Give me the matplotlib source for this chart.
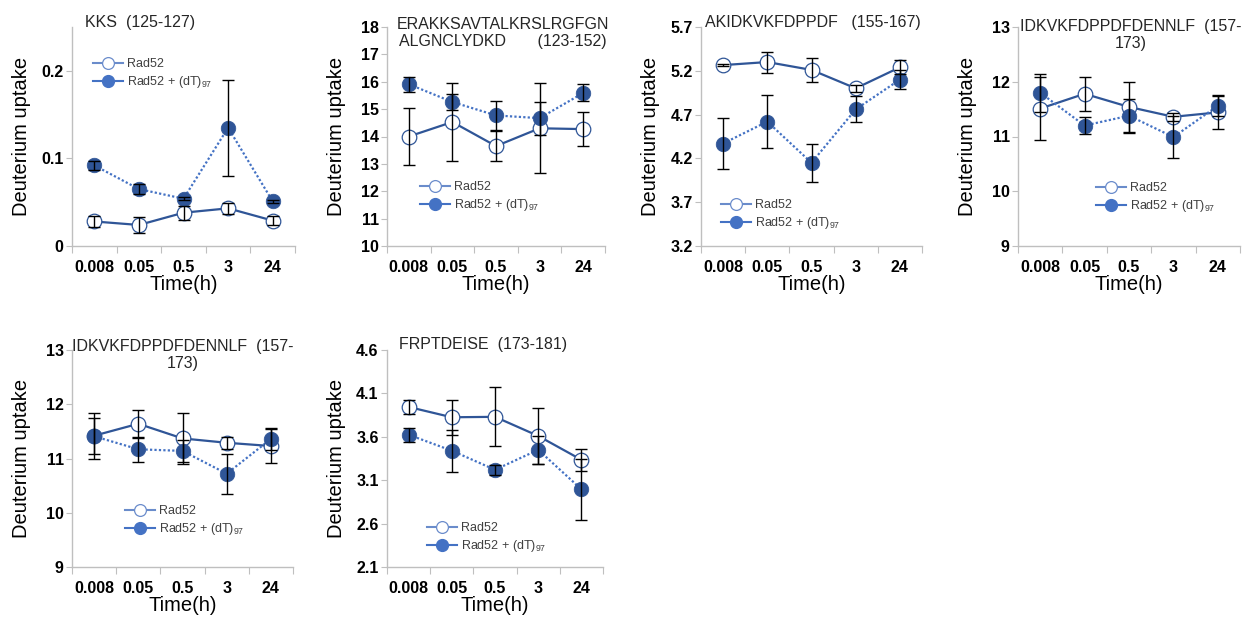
import matplotlib
matplotlib.use("Agg")
import matplotlib.pyplot as plt
from matplotlib.lines import Line2D
import numpy as np

plt.rcParams["font.family"] = ["Liberation Sans", "DejaVu Sans"]
plt.rcParams["mathtext.fontset"] = "custom"
plt.rcParams["mathtext.rm"] = "Liberation Sans"
plt.rcParams["mathtext.default"] = "rm"

# ---- data -------------------------------------------------------------
times = ["0.008", "0.05", "0.5", "3", "24"]
series_labels = ["Rad52", "Rad52 + (dT)$_{97}$"]

# KKS (125-127)
kks_apo = [0.028, 0.024, 0.038, 0.043, 0.029]
kks_apo_err = [0.006, 0.0095, 0.008, 0.0063, 0.005]
kks_dt = [0.092, 0.065, 0.054, 0.135, 0.051]
kks_dt_err = [0.005, 0.006, 0.002, 0.055, 0.002]

# ERAKKSAVTALKRSLRGFGNALGNCLYDKD (123-152)
erak_apo = [14.00, 14.53, 13.65, 14.30, 14.27]
erak_apo_err = [1.03, 1.43, 0.55, 1.65, 0.62]
erak_dt = [15.91, 15.26, 14.77, 14.67, 15.59]
erak_dt_err = [0.28, 0.30, 0.52, 0.60, 0.31]

# AKIDKVKFDPPDF (155-167)
akid_apo = [5.265, 5.30, 5.21, 5.00, 5.24]
akid_apo_err = [0.01, 0.12, 0.14, 0.04, 0.08]
akid_dt = [4.37, 4.62, 4.15, 4.76, 5.10]
akid_dt_err = [0.29, 0.30, 0.22, 0.15, 0.11]

# IDKVKFDPPDFDENNLF (157-173), first replicate set
idkv1_apo = [11.51, 11.78, 11.54, 11.36, 11.44]
idkv1_apo_err = [0.58, 0.31, 0.46, 0.07, 0.31]
idkv1_dt = [11.80, 11.20, 11.38, 10.99, 11.56]
idkv1_dt_err = [0.35, 0.16, 0.31, 0.39, 0.18]

# IDKVKFDPPDFDENNLF (157-173), second replicate set
idkv2_apo = [11.42, 11.64, 11.37, 11.29, 11.23]
idkv2_apo_err = [0.42, 0.26, 0.47, 0.11, 0.32]
idkv2_dt = [11.41, 11.17, 11.14, 10.72, 11.36]
idkv2_dt_err = [0.33, 0.23, 0.20, 0.37, 0.20]

# FRPTDEISE (173-181)
frpt_apo = [3.944, 3.825, 3.83, 3.61, 3.335]
frpt_apo_err = [0.08, 0.20, 0.34, 0.32, 0.13]
frpt_dt = [3.624, 3.44, 3.22, 3.45, 2.995]
frpt_dt_err = [0.08, 0.24, 0.06, 0.16, 0.35]

kks_yticks = [0, 0.1, 0.2]
kks_yticklabels = ["0", "0.1", "0.2"]
erak_yticks = [10, 11, 12, 13, 14, 15, 16, 17, 18]
akid_yticks = [3.2, 3.7, 4.2, 4.7, 5.2, 5.7]
idkv_yticks = [9, 10, 11, 12, 13]
frpt_yticks = [2.1, 2.6, 3.1, 3.6, 4.1, 4.6]

# ---- styling ----------------------------------------------------------
W, H = 1247, 620
SOLID = "#2F5597"
DOTTED = "#4472C4"
FILL = "#2F5597"
AXIS_GREY = "#BFBFBF"
LEG_OPEN = "#6A8CCB"
LEG_FILL = "#4472C4"

fig = plt.figure(figsize=(W / 100, H / 100), dpi=100)


def box(l, t, r, b):
    return [l / W, 1 - b / H, (r - l) / W, (b - t) / H]


def fpt(x, y):
    return (x / W, 1 - y / H)


panels = [
    dict(rect=(72, 27, 295, 246), apo=kks_apo, apo_err=kks_apo_err, dt=kks_dt, dt_err=kks_dt_err,
         ylim=(0, 0.25), yticks=kks_yticks, yticklabels=kks_yticklabels,
         title="KKS  (125-127)", title_xy=(140, 23), leg_xy=(93, 74)),
    dict(rect=(387, 27, 605, 246), apo=erak_apo, apo_err=erak_apo_err, dt=erak_dt, dt_err=erak_dt_err,
         ylim=(10, 18), yticks=erak_yticks, yticklabels=[str(v) for v in erak_yticks],
         title="ERAKKSAVTALKRSLRGFGN\nALGNCLYDKD       (123-152)", title_xy=(503, 33), leg_xy=(420, 197)),
    dict(rect=(701, 27, 922, 246), apo=akid_apo, apo_err=akid_apo_err, dt=akid_dt, dt_err=akid_dt_err,
         ylim=(3.2, 5.7), yticks=akid_yticks, yticklabels=[f"{v:.1f}" for v in akid_yticks],
         title="AKIDKVKFDPPDF   (155-167)", title_xy=(813, 23), leg_xy=(721, 215)),
    dict(rect=(1018, 27, 1240, 246), apo=idkv1_apo, apo_err=idkv1_apo_err, dt=idkv1_dt, dt_err=idkv1_dt_err,
         ylim=(9, 13), yticks=idkv_yticks, yticklabels=[str(v) for v in idkv_yticks],
         title="IDKVKFDPPDFDENNLF  (157-\n173)", title_xy=(1131, 35), leg_xy=(1096, 198)),
    dict(rect=(72, 350, 293, 567), apo=idkv2_apo, apo_err=idkv2_apo_err, dt=idkv2_dt, dt_err=idkv2_dt_err,
         ylim=(9, 13), yticks=idkv_yticks, yticklabels=[str(v) for v in idkv_yticks],
         title="IDKVKFDPPDFDENNLF  (157-\n173)", title_xy=(183, 355), leg_xy=(125, 521)),
    dict(rect=(387, 350, 603, 567), apo=frpt_apo, apo_err=frpt_apo_err, dt=frpt_dt, dt_err=frpt_dt_err,
         ylim=(2.1, 4.6), yticks=frpt_yticks, yticklabels=[f"{v:.1f}" for v in frpt_yticks],
         title="FRPTDEISE  (173-181)", title_xy=(483, 345), leg_xy=(427, 538)),
]

x = np.arange(len(times))

for p in panels:
    l, t, r, b = p["rect"]
    ax = fig.add_axes(box(l, t, r, b))
    axw = r - l
    axh = b - t

    ax.plot(x, p["apo"], color=SOLID, lw=1.6, zorder=2)
    ax.plot(x, p["dt"], color=DOTTED, lw=1.6, ls=(0, (1, 1)), zorder=2)
    ax.plot(x, p["apo"], ls="none", marker="o", ms=10.5, mfc="white", mec=SOLID, mew=0.9, zorder=3)
    ax.plot(x, p["dt"], ls="none", marker="o", ms=10.5, mfc=FILL, mec=FILL, mew=0.5, zorder=4)
    for vals, errs in ((p["apo"], p["apo_err"]), (p["dt"], p["dt_err"])):
        ax.errorbar(x, vals, yerr=errs, fmt="none", ecolor="black", elinewidth=1.0,
                    capsize=4, capthick=1.0, zorder=5)

    ax.set_xlim(-0.5, len(times) - 0.5)
    ax.set_ylim(*p["ylim"])

    for s in ("top", "right"):
        ax.spines[s].set_visible(False)
    for s in ("left", "bottom"):
        ax.spines[s].set_color(AXIS_GREY)
        ax.spines[s].set_linewidth(1.0)

    # category boundaries carry the tick marks, labels sit at the centres
    ax.set_xticks(np.arange(-0.5, len(times), 1.0))
    ax.tick_params(axis="x", which="major", length=5, color=AXIS_GREY, labelbottom=False)
    ax.set_xticks(x, minor=True)
    ax.set_xticklabels(times, minor=True, fontweight="bold", fontsize=11.5)
    ax.tick_params(axis="x", which="minor", length=0, pad=10)

    ax.set_yticks(p["yticks"])
    ax.set_yticklabels(p["yticklabels"], fontweight="bold", fontsize=11.5)
    ax.tick_params(axis="y", length=4, color=AXIS_GREY, pad=2)

    ax.set_xlabel("Time(h)", fontsize=14.5)
    ax.xaxis.set_label_coords(0.5, -29 / axh)
    ax.set_ylabel("Deuterium uptake", fontsize=14.5)
    ax.yaxis.set_label_coords(-41 / axw, 0.5)

    tx, ty = fpt(*p["title_xy"])
    fig.text(tx, ty, p["title"], ha="center", va="center", fontsize=11.5,
             color="#262626", linespacing=1.15)

    handles = [
        Line2D([], [], color=LEG_OPEN, lw=1.5, marker="o", ms=8.5, mfc="white", mec=LEG_OPEN, mew=0.9),
        Line2D([], [], color=LEG_FILL, lw=1.5, marker="o", ms=8.5, mfc=LEG_FILL, mec=LEG_FILL),
    ]
    ax.legend(handles, series_labels, loc="center left", bbox_to_anchor=fpt(*p["leg_xy"]),
              bbox_transform=fig.transFigure, frameon=False, fontsize=9, handlelength=2.4,
              handletextpad=0.35, labelspacing=0.3, borderpad=0, borderaxespad=0,
              labelcolor="#404040")

fig.savefig("out.png", dpi=100)
